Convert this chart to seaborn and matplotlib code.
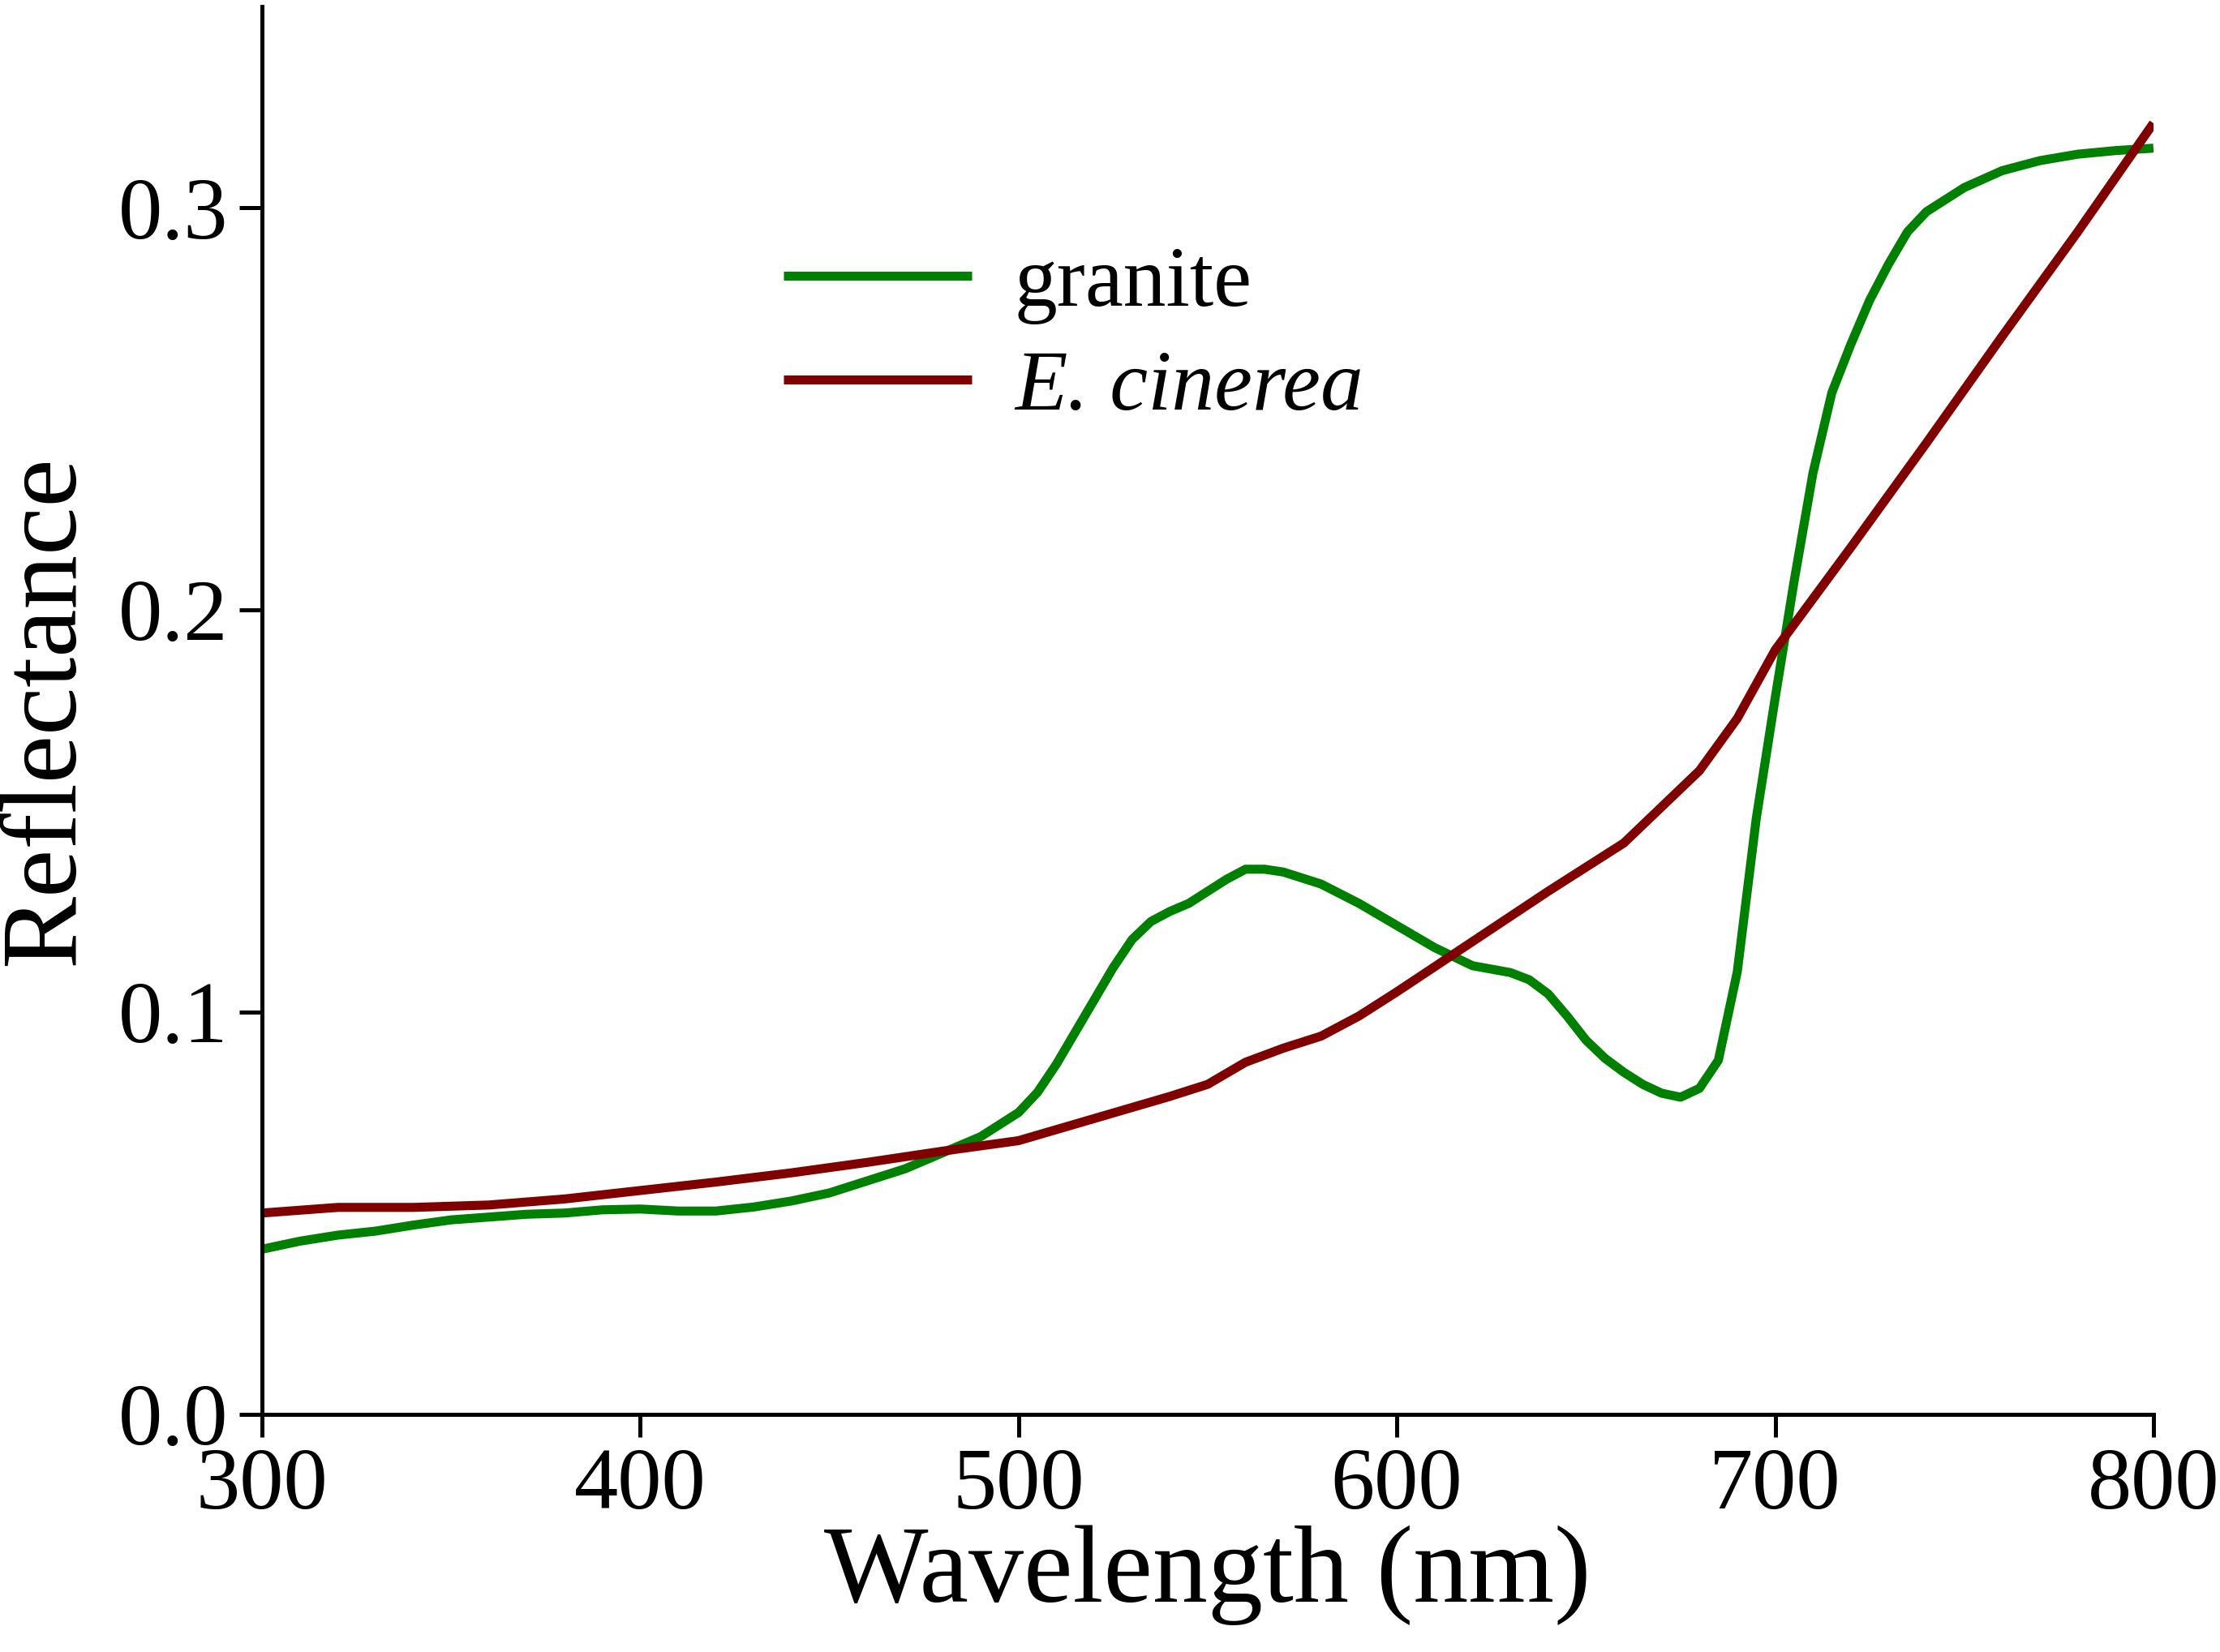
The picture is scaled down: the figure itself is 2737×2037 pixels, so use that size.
import numpy as np
import pandas as pd
import matplotlib
matplotlib.use("Agg")
import matplotlib.pyplot as plt
import seaborn as sns

# granite reflectance spectrum
granite_wl = [300, 310, 320, 330, 340, 350, 360, 370, 380, 390, 400, 410, 420, 430,
              440, 450, 460, 470, 480, 490, 500, 505, 510, 515, 520, 525, 530, 535,
              540, 545, 550, 555, 560, 565, 570, 580, 590, 600, 610, 620, 630, 635,
              640, 645, 650, 655, 660, 665, 670, 675, 680, 685, 690, 695, 700, 705,
              710, 715, 720, 725, 730, 735, 740, 750, 760, 770, 780, 790, 800]
granite_refl = [0.041, 0.043, 0.0445, 0.0455, 0.047, 0.0483, 0.049, 0.0497, 0.050, 0.0508,
                0.051, 0.0505, 0.0505, 0.0515, 0.053, 0.055, 0.058, 0.061, 0.065, 0.069,
                0.075, 0.080, 0.087, 0.095, 0.103, 0.111, 0.118, 0.1225, 0.125, 0.127,
                0.130, 0.133, 0.1355, 0.1355, 0.1348, 0.1318, 0.127, 0.1215, 0.116, 0.1115,
                0.1098, 0.108, 0.1045, 0.099, 0.093, 0.0885, 0.085, 0.082, 0.0798, 0.0788,
                0.081, 0.088, 0.110, 0.148, 0.178, 0.207, 0.234, 0.254, 0.266, 0.277,
                0.286, 0.294, 0.299, 0.305, 0.3092, 0.3117, 0.3133, 0.3142, 0.3148]

# E. cinerea reflectance spectrum
cinerea_wl = [300, 320, 340, 360, 380, 400, 420, 440, 460, 480, 500, 520, 540, 550,
              560, 570, 580, 590, 600, 620, 640, 660, 680, 690, 700, 720, 740, 760,
              780, 800]
cinerea_refl = [0.050, 0.0514, 0.0514, 0.052, 0.0535, 0.0556, 0.0577, 0.060, 0.0626, 0.0654,
                0.068, 0.0735, 0.079, 0.082, 0.0875, 0.091, 0.094, 0.099, 0.105, 0.1175,
                0.130, 0.142, 0.160, 0.173, 0.190, 0.2155, 0.2415, 0.268, 0.294, 0.321]

series_names = ["granite", "E. cinerea"]
series_colors = ["#008000", "#800000"]

df = pd.concat([
    pd.DataFrame({"wavelength": granite_wl, "reflectance": granite_refl, "sample": series_names[0]}),
    pd.DataFrame({"wavelength": cinerea_wl, "reflectance": cinerea_refl, "sample": series_names[1]}),
])

sns.set_style("ticks")
plt.rcParams["font.family"] = ["Liberation Serif", "DejaVu Serif"]
plt.rcParams["text.color"] = "black"
plt.rcParams["axes.labelcolor"] = "black"
plt.rcParams["xtick.color"] = "black"
plt.rcParams["ytick.color"] = "black"

fig = plt.figure(figsize=(27.37, 20.37), dpi=100)
ax = fig.add_axes([0.118, 0.144, 0.852, 0.852])

sns.lineplot(data=df, x="wavelength", y="reflectance", hue="sample",
             hue_order=series_names, palette=series_colors, linewidth=8,
             solid_joinstyle="round", solid_capstyle="butt", ax=ax)

ax.set_xlim(300, 800)
ax.set_ylim(0, 0.35)
ax.set_xticks([300, 400, 500, 600, 700, 800])
ax.set_yticks([0.0, 0.1, 0.2, 0.3])
ax.set_yticklabels(["0.0", "0.1", "0.2", "0.3"])
ax.tick_params(axis="both", labelsize=78, width=3.6, length=20, direction="out", pad=10)
for side in ["top", "right"]:
    ax.spines[side].set_visible(False)
for side in ["left", "bottom"]:
    ax.spines[side].set_linewidth(3.6)
    ax.spines[side].set_color("black")

ax.set_xlabel("Wavelength (nm)", fontsize=98, labelpad=-2)
ax.set_ylabel("Reflectance", fontsize=96)
ax.yaxis.set_label_coords(-0.088, 0.5)

leg = ax.legend(loc="upper left", bbox_to_anchor=(0.235, 0.885), frameon=False,
                fontsize=76, handlelength=2.2, handletextpad=0.5, labelspacing=0.3)
for line in leg.get_lines():
    line.set_linewidth(8)
leg.get_texts()[1].set_fontstyle("italic")

fig.savefig("out.png", dpi=100, facecolor="white")
